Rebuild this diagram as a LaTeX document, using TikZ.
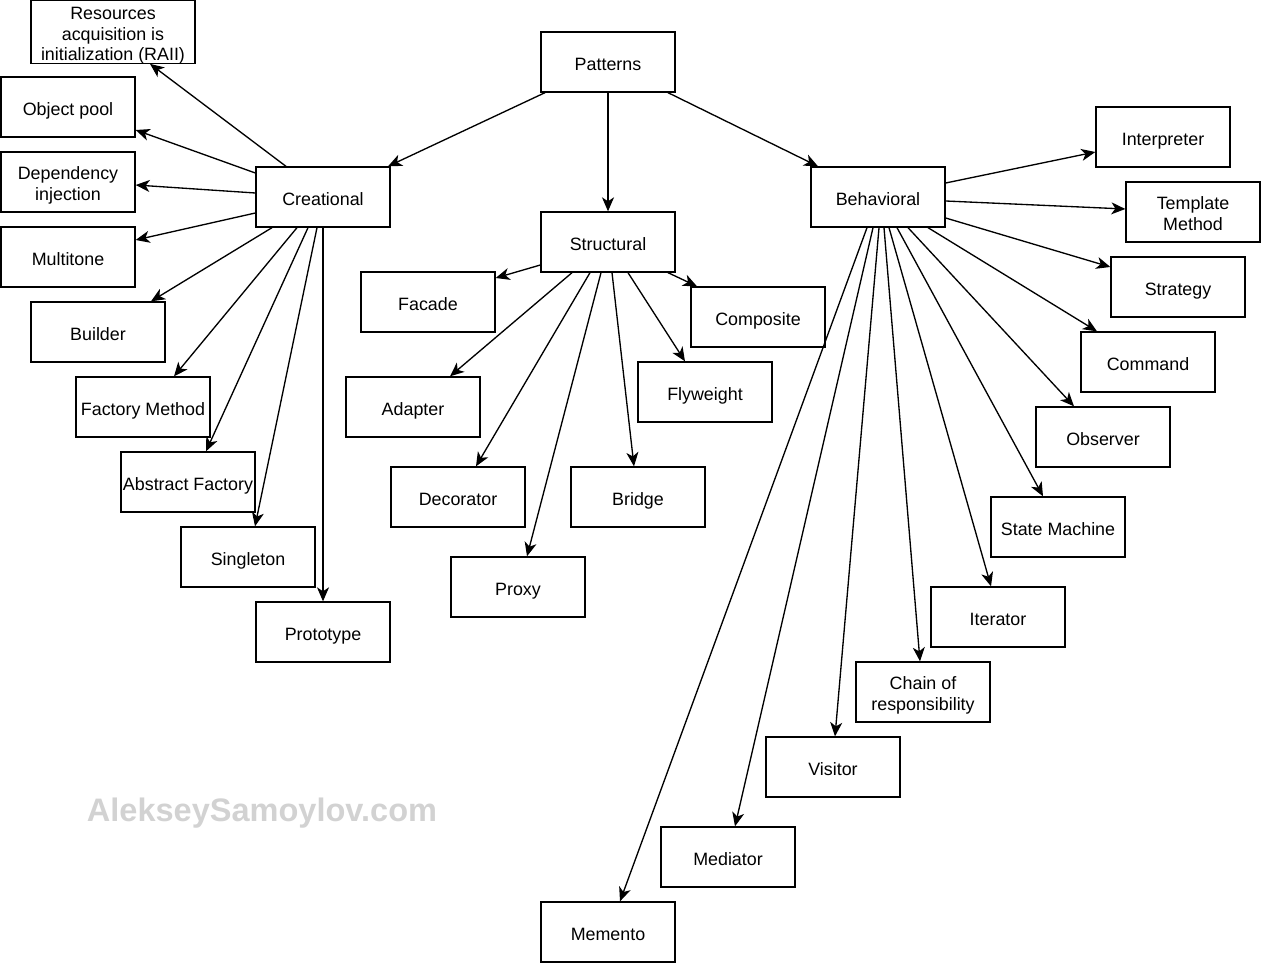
\documentclass[tikz,border=0pt]{standalone}
\usepackage{fontspec}
\setmainfont{Liberation Sans}
\usetikzlibrary{arrows.meta,calc}
\definecolor{wmgray}{HTML}{D2D2D2}
\newcommand\bxt[1]{\raisebox{-3pt}[\height][\depth]{\begin{tabular}{@{}c@{}}#1\end{tabular}}}
\begin{document}
\begin{tikzpicture}[x=0.75pt,y=-0.75pt,
  box/.style={draw,line width=1pt,minimum width=100.5pt,minimum height=45pt,inner sep=0pt,align=center,font=\fontsize{13.4}{15.6}\selectfont},
  arr/.style={line width=1pt,-{Stealth[length=10.5pt,width=9pt,inset=3pt]}},
  wm/.style={text=wmgray,font=\fontsize{24.4}{28}\selectfont\bfseries}]
\useasboundingbox (0,0) rectangle (1262,963);
% top
\node[box] (pat) at (608,62) {\bxt{Patterns}};
\node[box] (cre) at (323,197) {\bxt{Creational}};
\node[box] (str) at (608,242) {\bxt{Structural}};
\node[box] (beh) at (878,197) {\bxt{Behavioral}};
% creational
\node[box,minimum width=123pt] (raii) at (113,32) {\bxt{Resources\\acquisition is\\initialization (RAII)}};
\node[box] (op) at (68,107) {\bxt{Object pool}};
\node[box] (dep) at (68,182) {\bxt{Dependency\\injection}};
\node[box] (multi) at (68,257) {\bxt{Multitone}};
\node[box] (builder) at (98,332) {\bxt{Builder}};
\node[box] (fm) at (143,407) {\bxt{Factory Method}};
\node[box] (af) at (188,482) {\bxt{Abstract Factory}};
\node[box] (single) at (248,557) {\bxt{Singleton}};
\node[box] (proto) at (323,632) {\bxt{Prototype}};
% structural
\node[box] (facade) at (428,302) {\bxt{Facade}};
\node[box] (comp) at (758,317) {\bxt{Composite}};
\node[box] (adapter) at (413,407) {\bxt{Adapter}};
\node[box] (fly) at (705,392) {\bxt{Flyweight}};
\node[box] (deco) at (458,497) {\bxt{Decorator}};
\node[box] (bridge) at (638,497) {\bxt{Bridge}};
\node[box] (proxy) at (518,587) {\bxt{Proxy}};
% behavioral
\node[box] (interp) at (1163,137) {\bxt{Interpreter}};
\node[box] (tm) at (1193,212) {\bxt{Template\\Method}};
\node[box] (strat) at (1178,287) {\bxt{Strategy}};
\node[box] (cmd) at (1148,362) {\bxt{Command}};
\node[box] (obs) at (1103,437) {\bxt{Observer}};
\node[box] (sm) at (1058,527) {\bxt{State Machine}};
\node[box] (iter) at (998,617) {\bxt{Iterator}};
\node[box] (chain) at (923,692) {\bxt{Chain of\\responsibility}};
\node[box] (visitor) at (833,767) {\bxt{Visitor}};
\node[box] (med) at (728,857) {\bxt{Mediator}};
\node[box] (mem) at (608,932) {\bxt{Memento}};
% watermark
\node[wm] (wmark) at (262,813) {AlekseySamoylov.com};
% edges from Patterns
\draw[arr] ($(pat.south)+(-63,0)$) -- ($(cre.north)+(65,0)$);
\draw[arr] (pat.south) -- (str.north);
\draw[arr] ($(pat.south)+(60,0)$) -- ($(beh.north)+(-60,0)$);
% creational edges
\draw[arr] ($(cre.north)+(-37,0)$) -- ($(raii.south)+(37,0)$);
\draw[arr] ($(cre.west)+(0,-24)$) -- ($(op.east)+(0,23)$);
\draw[arr] ($(cre.west)+(0,-4)$) -- ($(dep.east)+(0,3)$);
\draw[arr] ($(cre.west)+(0,16)$) -- ($(multi.east)+(0,-17)$);
\draw[arr] ($(cre.south)+(-51,0)$) -- ($(builder.north)+(53,0)$);
\draw[arr] ($(cre.south)+(-26,0)$) -- ($(fm.north)+(31,0)$);
\draw[arr] ($(cre.south)+(-15,0)$) -- ($(af.north)+(18,0)$);
\draw[arr] ($(cre.south)+(-6,0)$) -- ($(single.north)+(7,0)$);
\draw[arr] (cre.south) -- (proto.north);
% structural edges
\draw[arr] ($(str.west)+(0,23)$) -- ($(facade.east)+(0,-24)$);
\draw[arr] ($(str.south)+(60,0)$) -- ($(comp.north)+(-61,0)$);
\draw[arr] ($(str.south)+(-36,0)$) -- ($(adapter.north)+(37,0)$);
\draw[arr] ($(str.south)+(-18,0)$) -- ($(deco.north)+(18,0)$);
\draw[arr] ($(str.south)+(-7,0)$) -- ($(proxy.north)+(9,0)$);
\draw[arr] ($(str.south)+(4,0)$) -- ($(bridge.north)+(-4,0)$);
\draw[arr] ($(str.south)+(20,0)$) -- ($(fly.north)+(-20,0)$);
% behavioral edges
\draw[arr] ($(beh.east)+(0,-14)$) -- ($(interp.west)+(0,15)$);
\draw[arr] ($(beh.east)+(0,4)$) -- ($(tm.west)+(0,-3)$);
\draw[arr] ($(beh.east)+(0,21)$) -- ($(strat.west)+(0,-20)$);
\draw[arr] ($(beh.south)+(50,0)$) -- ($(cmd.north)+(-51,0)$);
\draw[arr] ($(beh.south)+(30,0)$) -- ($(obs.north)+(-29,0)$);
\draw[arr] ($(beh.south)+(19,0)$) -- ($(sm.north)+(-15,0)$);
\draw[arr] ($(beh.south)+(11,0)$) -- ($(iter.north)+(-7,0)$);
\draw[arr] ($(beh.south)+(6,0)$) -- ($(chain.north)+(-3,0)$);
\draw[arr] ($(beh.south)+(1,0)$) -- ($(visitor.north)+(2,0)$);
\draw[arr] ($(beh.south)+(-5,0)$) -- ($(med.north)+(7,0)$);
\draw[arr] ($(beh.south)+(-11,0)$) -- ($(mem.north)+(12,0)$);
\end{tikzpicture}
\end{document}
